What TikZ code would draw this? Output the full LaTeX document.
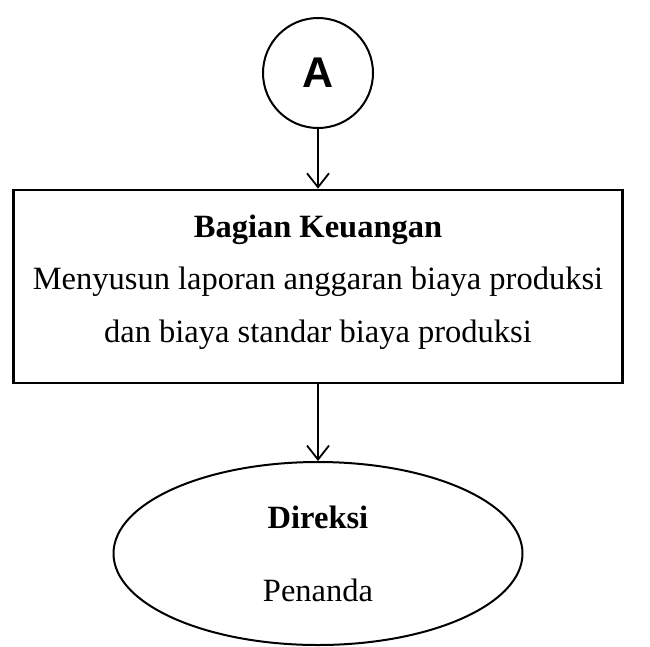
\documentclass[tikz,border=0pt]{standalone}
\usepackage{fontspec}
\setmainfont{Liberation Serif}
\newfontfamily\labelfont{Liberation Sans}
\usetikzlibrary{arrows.meta,shapes.geometric}

\begin{document}
\begin{tikzpicture}[x=1pt,y=-1pt,
		Conn/.style={circle,draw,line width=2pt,minimum size=110pt,inner sep=0pt},
		Box/.style={rectangle,draw,line width=2.6pt,minimum width=609pt,minimum height=193pt,align=center,inner sep=0pt,font=\fontsize{32.5}{52.5}\selectfont},
		Oval/.style={ellipse,draw,line width=2pt,minimum width=409pt,minimum height=183pt,align=center,inner sep=0pt,font=\fontsize{32.5}{73}\selectfont},
		Arrow/.style={-{Straight Barb[length=14pt,width=22pt]},line width=1.8pt}]
		\useasboundingbox (0,0) rectangle (650,646);
		% nodes
		\node[Conn] (A) at (318,73) {\labelfont\bfseries\fontsize{43}{43}\selectfont A};
		\node[Box] (Keuangan) at (318,286.5) {\textbf{Bagian Keuangan}\\Menyusun laporan anggaran biaya produksi\\dan biaya standar biaya produksi\\[-36pt]\mbox{}};
		\node[Oval] (Direksi) at (318,553.5) {\textbf{Direksi}\\Penanda};
		% connections
		\draw [Arrow] (A) -- (Keuangan);
		\draw [Arrow] (Keuangan) -- (Direksi);
	\end{tikzpicture}
\end{document}
